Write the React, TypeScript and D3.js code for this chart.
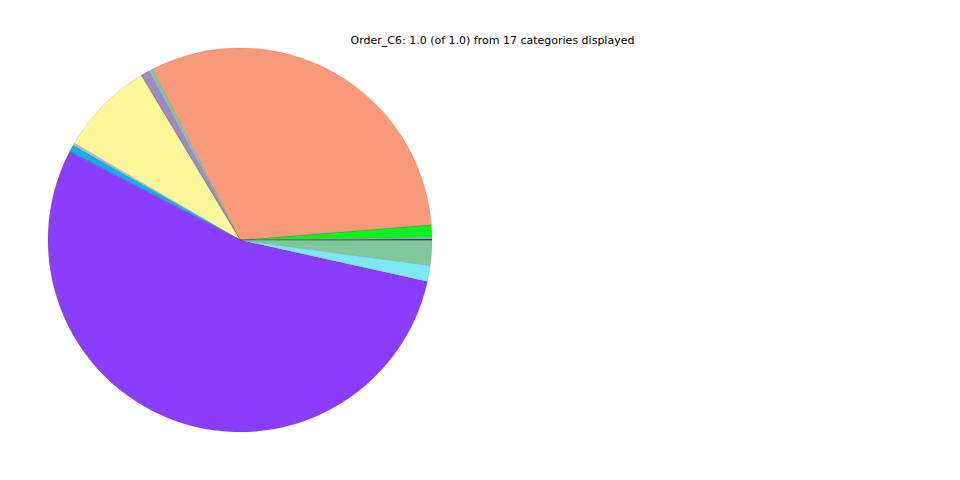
import React from "react";
import * as d3 from "d3";

const categories = [
  "c01", "c02", "c03", "c04", "c05", "c06", "c07", "c08", "c09",
  "c10", "c11", "c12", "c13", "c14", "c15", "c16", "c17",
];
const values = [
  0.0008, 0.0002, 0.001, 0.0106, 0.0002, 0.3115, 0.0033, 0.007, 0.0002,
  0.0795, 0.002, 0.0058, 0.0002, 0.5393, 0.0136, 0.0208, 0.0002,
];
const colors = [
  "#3a2fd0", "#e06090", "#c8a8e8", "#10f020", "#f0c040", "#f8997a", "#80c8a0", "#a088c8", "#60a0e0",
  "#fff799", "#c8b8b0", "#10b0f0", "#d04040", "#8b3dff", "#7ee8f0", "#80c89a", "#404080",
];
const title = "Order_C6: 1.0 (of 1.0) from 17 categories displayed";

export default function App() {
  const width = 960;
  const height = 480;
  const cx = 240;
  const cy = 240;
  const r = 192;
  const data = categories.map((c, i) => ({ name: c, value: values[i], color: colors[i] }));
  const pie = d3
    .pie<any>()
    .value((d: any) => d.value)
    .sort(null)
    .startAngle(Math.PI / 2)
    .endAngle(Math.PI / 2 - 2 * Math.PI);
  const arcs = pie(data);
  const arc = d3.arc<any>().innerRadius(0).outerRadius(r);
  return (
    <svg
      width={width}
      height={height}
      style={{ position: "absolute", left: 0, top: 0, background: "#fff" }}
    >
      <g transform={`translate(${cx},${cy})`}>
        {arcs.map((a, i) => (
          <path
            key={i}
            d={arc(a) as string}
            fill={a.data.color}
            stroke="rgba(0,0,0,0.25)"
            strokeWidth={0.4}
          />
        ))}
      </g>
      <text
        x={492.5}
        y={44}
        textAnchor="middle"
        fontFamily="DejaVu Sans"
        fontSize={11}
        fill="#000"
      >
        {title}
      </text>
    </svg>
  );
}
